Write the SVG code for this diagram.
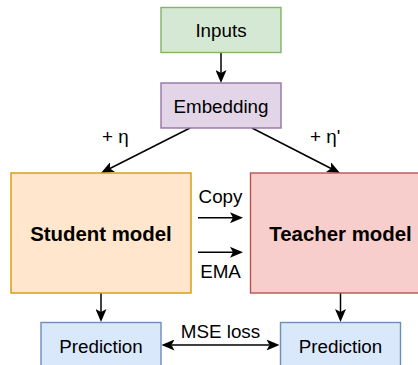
<svg xmlns="http://www.w3.org/2000/svg" width="418" height="365" viewBox="0 0 418 365">
<style>
text{font-family:"Liberation Sans",Arial,Helvetica,sans-serif;font-size:18.8px;fill:#000}
.c{text-anchor:middle}
.b{font-weight:bold;font-size:20.4px}
rect{stroke-width:1.4}
.ln{stroke:#000;stroke-width:1.5;fill:none;marker-end:url(#ah)}
</style>
<defs>
<marker id="ah" viewBox="0 0 13 11" refX="3" refY="5.5" markerWidth="13" markerHeight="11" markerUnits="userSpaceOnUse" orient="auto-start-reverse">
<path d="M0,0 L13,5.5 L0,11 L3,5.5 Z" fill="#000"/>
</marker>
</defs>
<rect width="418" height="365" fill="#fff"/>
<g id="connectors">
<line class="ln" x1="221" y1="52.5" x2="221" y2="73"/>
<line class="ln" x1="190" y1="128" x2="109.9" y2="168.5"/>
<line class="ln" x1="252" y1="128" x2="331.1" y2="168.5"/>
<line class="ln" x1="198" y1="217.7" x2="233" y2="217.7"/>
<line class="ln" x1="198" y1="252.3" x2="233" y2="252.3"/>
<line class="ln" x1="101" y1="293" x2="101" y2="312"/>
<line class="ln" x1="340.5" y1="293" x2="340.5" y2="312"/>
<line class="ln" x1="171.5" y1="345" x2="269.5" y2="345" marker-start="url(#ah)"/>
<text x="102" y="143">+ η</text>
<text x="310" y="143">+ η'</text>
<text class="c" x="220.5" y="203">Copy</text>
<text class="c" x="220.5" y="278">EMA</text>
<text class="c" x="220.5" y="337.5">MSE loss</text>
</g>
<g id="inputs">
<rect x="161" y="7.5" width="120" height="45" fill="#d5e8d4" stroke="#82b366"/>
<text class="c" x="221" y="36.8">Inputs</text>
</g>
<g id="embedding">
<rect x="161" y="83" width="120" height="45" fill="#e1d5e7" stroke="#9673a6"/>
<text class="c" x="221" y="112.5">Embedding</text>
</g>
<g id="student">
<rect x="11" y="173" width="180" height="120" fill="#ffe6cc" stroke="#d79b00"/>
<text class="c b" x="101" y="240.5">Student model</text>
</g>
<g id="teacher">
<rect x="250.5" y="173" width="180" height="120" fill="#f8cecc" stroke="#b85450"/>
<text class="c b" x="340.5" y="240.5">Teacher model</text>
</g>
<g id="pred-student">
<rect x="41" y="322.5" width="120" height="45" fill="#dae8fc" stroke="#6c8ebf"/>
<text class="c" x="101" y="352.5">Prediction</text>
</g>
<g id="pred-teacher">
<rect x="280.5" y="322.5" width="120" height="45" fill="#dae8fc" stroke="#6c8ebf"/>
<text class="c" x="340.5" y="352.5">Prediction</text>
</g>
</svg>
